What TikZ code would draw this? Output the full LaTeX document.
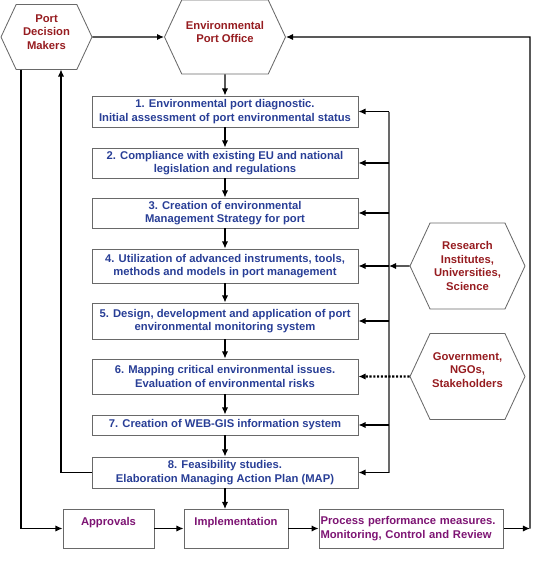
\documentclass[tikz,border=0pt]{standalone}
\usepackage{fontspec}
\setmainfont{Liberation Sans}
\usepackage{tikz}
\usetikzlibrary{shapes,arrows.meta}
\definecolor{hexred}{RGB}{150,28,32}
\definecolor{stepblue}{RGB}{40,62,150}
\definecolor{endpurple}{RGB}{125,20,115}
\definecolor{rim}{RGB}{105,105,105}
\tikzstyle{hexa} = [draw=rim, signal, signal to=east and west, signal pointer angle=130, text=hexred, align=center, inner sep=1pt, line width=0.6pt]
\tikzstyle{block} = [draw=rim, rectangle, minimum width=6.65cm, text=stepblue, align=center, inner sep=1pt, line width=0.7pt]
\tikzstyle{endblock} = [draw=rim, rectangle, minimum height=0.975cm, text=endpurple, line width=0.7pt]
\tikzstyle{bus} = [-, draw=rim, line width=0.8pt]
\tikzstyle{dots} = [dash pattern=on 1.5pt off 1.2pt, line width=1.6pt]

\begin{document}
\begin{tikzpicture}[->,>={Latex[length=5pt,width=4.5pt]},line width=0.9pt,font=\fontsize{8}{9.6}\selectfont\bfseries]

\useasboundingbox (0,0) rectangle (13.825,-14.05);

\node[hexa, minimum width=2.275cm, minimum height=1.625cm, xshift=1.1625cm, yshift=-0.925cm] (pdm) [] {Port\\Decision\\Makers\\[-2.6pt]\mbox{}};
\node[hexa, minimum width=3.025cm, minimum height=1.85cm, xshift=5.625cm, yshift=-0.925cm] (epo) [] {Environmental\\Port Office\\[-2.6pt]\mbox{}};

\node[block, minimum height=0.775cm, xshift=5.625cm, yshift=-2.7875cm] (s1) [] {1. Environmental port diagnostic.\\Initial assessment of port environmental status};
\node[block, minimum height=0.75cm, xshift=5.625cm, yshift=-4.075cm] (s2) [] {2. Compliance with existing EU and national\\legislation and regulations};
\node[block, minimum height=0.75cm, xshift=5.625cm, yshift=-5.325cm] (s3) [] {3. Creation of environmental\\Management Strategy for port};
\node[block, minimum height=0.85cm, xshift=5.625cm, yshift=-6.65cm] (s4) [] {4. Utilization of advanced instruments, tools,\\methods and models in port management};
\node[block, minimum height=0.9cm, xshift=5.625cm, yshift=-8.025cm] (s5) [] {5. Design, development and application of port\\environmental monitoring system};
\node[block, minimum height=0.875cm, xshift=5.625cm, yshift=-9.4125cm] (s6) [] {6. Mapping critical environmental issues.\\Evaluation of environmental risks};
\node[block, minimum height=0.5cm, xshift=5.625cm, yshift=-10.625cm] (s7) [] {7. Creation of WEB-GIS information system};
\node[block, minimum height=0.775cm, xshift=5.625cm, yshift=-11.8125cm] (s8) [] {8. Feasibility studies.\\Elaboration Managing Action Plan (MAP)};

\node[hexa, minimum width=2.875cm, minimum height=2.15cm, xshift=11.6875cm, yshift=-6.65cm] (res) [] {Research\\Institutes,\\Universities,\\Science};
\node[hexa, minimum width=2.875cm, minimum height=2.15cm, xshift=11.6875cm, yshift=-9.4125cm] (gov) [] {Government,\\NGOs,\\Stakeholders\\\mbox{}};

\node[endblock, minimum width=2.275cm, text height=0.2cm, text depth=0.35cm, xshift=2.7125cm, yshift=-13.2125cm] (appr) [] {Approvals};
\node[endblock, minimum width=2.6cm, text height=0.2cm, text depth=0.35cm, xshift=5.9cm, yshift=-13.2125cm] (impl) [] {Implementation};
\node[endblock, text width=4.55cm, align=left, inner xsep=1pt, xshift=10.2875cm, yshift=-13.2125cm] (proc) [] {Process performance measures.\\Monitoring, Control and Review};

% bus and turning points
\coordinate[xshift=9.725cm, yshift=-2.7875cm] (b1);
\coordinate[xshift=9.725cm, yshift=-4.075cm] (b2);
\coordinate[xshift=9.725cm, yshift=-5.325cm] (b3);
\coordinate[xshift=9.725cm, yshift=-6.65cm] (b4);
\coordinate[xshift=9.725cm, yshift=-8.025cm] (b5);
\coordinate[xshift=9.725cm, yshift=-10.625cm] (b7);
\coordinate[xshift=9.725cm, yshift=-11.8125cm] (b8);
\coordinate[xshift=13.25cm, yshift=-13.2125cm] (r1);
\coordinate[xshift=13.25cm, yshift=-0.925cm] (r2);
\coordinate[xshift=0.525cm, yshift=-1.7375cm] (l1);
\coordinate[xshift=0.525cm, yshift=-13.2125cm] (l2);
\coordinate[xshift=1.525cm, yshift=-11.8125cm] (l3);
\coordinate[xshift=1.525cm, yshift=-1.7375cm] (l4);
\coordinate[xshift=5.625cm, yshift=-12.725cm] (i1);

\path
(pdm) edge [] (epo)
(epo) edge [] (s1)
(s1) edge [] (s2)
(s2) edge [] (s3)
(s3) edge [] (s4)
(s4) edge [] (s5)
(s5) edge [] (s6)
(s6) edge [] (s7)
(s7) edge [] (s8)
(s8) edge [] (i1)
(appr) edge [] (impl)
(impl) edge [] (proc);

\path
(b1) edge [bus] (b8)
(b1) edge [] (s1)
(b2) edge [] (s2)
(b3) edge [] (s3)
(b4) edge [] (s4)
(b5) edge [] (s5)
(b7) edge [] (s7)
(b8) edge [] (s8)
(res) edge [] (b4)
(gov) edge [dots] (s6);

\draw (proc) -- (r1);
\draw (r1) -- (r2) -- (epo);
\draw (l1) -- (l2) -- (appr);
\draw (s8) -- (l3) -- (l4);

\end{tikzpicture}
\end{document}
